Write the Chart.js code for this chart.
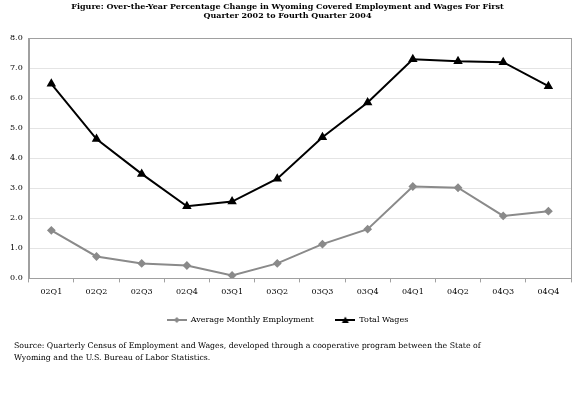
<!DOCTYPE html>
<html>
<head>
<meta charset="utf-8">
<script src="https://cdn.jsdelivr.net/npm/chart.js@4/dist/chart.umd.min.js"></script>
<style>
  html, body { margin: 0; padding: 0; background: #fff; }
  #wrap { position: relative; width: 579px; height: 393px; }
  #source {
    position: absolute; left: 14px; top: 340px; width: 570px;
    font-family: "DejaVu Serif", serif; font-size: 7.8px; line-height: 12px; color: #000;
  }
</style>
</head>
<body>
<div id="wrap">
  <canvas id="chart" width="579" height="393"></canvas>
  <div id="source">Source: Quarterly Census of Employment and Wages, developed through a cooperative program between the State of<br>Wyoming and the U.S. Bureau of Labor Statistics.</div>
</div>
<script>
// data
const quarters = ['02Q1', '02Q2', '02Q3', '02Q4', '03Q1', '03Q2', '03Q3', '03Q4', '04Q1', '04Q2', '04Q3', '04Q4'];
const employment = [1.6, 0.73, 0.5, 0.43, 0.1, 0.5, 1.14, 1.64, 3.06, 3.02, 2.08, 2.24];
const wages = [6.48, 4.64, 3.48, 2.4, 2.56, 3.32, 4.7, 5.86, 7.3, 7.23, 7.2, 6.4];
const titleLines = ['Figure: Over-the-Year Percentage Change in Wyoming Covered Employment and Wages For First',
                    'Quarter 2002 to Fourth Quarter 2004'];

const serif = '"DejaVu Serif", serif';
const grey = '#8a8a8a';

// box around the plot area
const frame = {
    id: 'frame',
    afterDraw(chart) {
        const a = chart.chartArea;
        const ctx = chart.ctx;
        ctx.save();
        ctx.strokeStyle = '#a0a0a0';
        ctx.lineWidth = 1;
        ctx.strokeRect(Math.round(a.left) + 0.5, Math.round(a.top) + 0.5,
            Math.round(a.right - a.left), Math.round(a.bottom - a.top));
        ctx.restore();
    }
};

// legend symbol: short line with the marker on it
function legendSymbol(color, shape) {
    const c = document.createElement('canvas');
    c.width = 20; c.height = 8;
    const g = c.getContext('2d');
    g.strokeStyle = color; g.fillStyle = color; g.lineWidth = 2;
    g.beginPath(); g.moveTo(0, 4); g.lineTo(20, 4); g.stroke();
    g.beginPath();
    if (shape === 'diamond') {
        g.moveTo(10, 1); g.lineTo(13, 4); g.lineTo(10, 7); g.lineTo(7, 4);
    } else {
        g.moveTo(10, 0.5); g.lineTo(13.5, 7); g.lineTo(6.5, 7);
    }
    g.closePath(); g.fill();
    return c;
}
const symbols = [legendSymbol(grey, 'diamond'), legendSymbol('#000', 'triangle')];

new Chart(document.getElementById('chart').getContext('2d'), {
    type: 'line',
    data: {
        labels: quarters,
        datasets: [{
            label: 'Average Monthly Employment',
            data: employment,
            borderColor: grey,
            backgroundColor: grey,
            borderWidth: 2,
            pointStyle: 'rectRot',
            pointRadius: 3,
            tension: 0
        }, {
            label: 'Total Wages',
            data: wages,
            borderColor: '#000',
            backgroundColor: '#000',
            borderWidth: 2,
            pointStyle: 'triangle',
            pointRadius: 3.5,
            tension: 0
        }]
    },
    options: {
        responsive: false,
        animation: false,
        layout: { padding: { left: 4, right: 8, top: 0, bottom: 59 } },
        plugins: {
            title: {
                display: true,
                text: titleLines,
                font: { family: serif, size: 8, weight: 'bold' },
                color: '#000',
                padding: { top: 2, bottom: 17 },
                lineHeight: 1.25
            },
            legend: {
                position: 'bottom',
                labels: {
                    usePointStyle: true,
                    pointStyleWidth: 20,
                    boxHeight: 8,
                    padding: 14,
                    color: '#000',
                    font: { family: serif, size: 8 },
                    generateLabels(chart) {
                        return Chart.defaults.plugins.legend.labels.generateLabels(chart).map((l, i) => {
                            l.pointStyle = symbols[i];
                            // a bit more room between the two entries
                            if (i === 0) l.text += '   ';
                            return l;
                        });
                    }
                }
            },
            tooltip: { enabled: false }
        },
        scales: {
            x: {
                offset: true,
                grid: { display: true, drawOnChartArea: false, offset: true, tickLength: 4, color: '#a0a0a0' },
                border: { color: '#a0a0a0' },
                ticks: { color: '#000', font: { family: serif, size: 8 }, padding: 5, maxRotation: 0 }
            },
            y: {
                min: 0,
                max: 8,
                grid: { color: '#e4e4e4', drawTicks: false },
                border: { color: '#a0a0a0' },
                ticks: {
                    stepSize: 1,
                    padding: 6,
                    color: '#000',
                    font: { family: serif, size: 8 },
                    callback: v => v.toFixed(1)
                }
            }
        }
    },
    plugins: [frame]
});
</script>
</body>
</html>
